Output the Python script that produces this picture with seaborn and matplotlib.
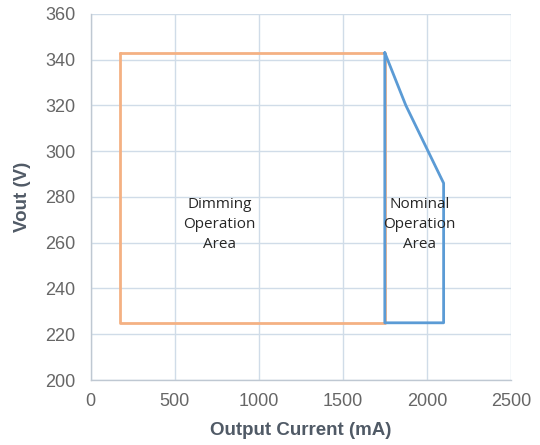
import matplotlib
matplotlib.use('Agg')
import matplotlib.pyplot as plt
import pandas as pd
import seaborn as sns

# Outline of the dimming area (orange) and the nominal area (blue)
dim_current = [175, 1750, 1750, 175, 175]
dim_vout = [343, 343, 225, 225, 343]
nom_current = [1750, 1875, 2100, 2100, 1750, 1750]
nom_vout = [343, 320, 286, 225, 225, 343]

x_ticks = [0, 500, 1000, 1500, 2000, 2500]
y_ticks = [200, 220, 240, 260, 280, 300, 320, 340, 360]

df_dim = pd.DataFrame({'current': dim_current, 'vout': dim_vout})
df_nom = pd.DataFrame({'current': nom_current, 'vout': nom_vout})

sns.set_style('white')
plt.rcParams['font.family'] = ['Liberation Sans', 'DejaVu Sans']

fig = plt.figure(figsize=(5.4, 4.45), dpi=100)
ax = fig.add_axes([0.168, 0.146, 0.778, 0.823])

sns.lineplot(x='current', y='vout', data=df_dim, sort=False, estimator=None,
             color='#F4B183', linewidth=2, ax=ax)
sns.lineplot(x='current', y='vout', data=df_nom, sort=False, estimator=None,
             color='#5B9BD5', linewidth=2, ax=ax)

ax.set_xlim(0, 2500)
ax.set_ylim(200, 360)
ax.set_xticks(x_ticks)
ax.set_yticks(y_ticks)
ax.grid(True, color='#D0DCE8', linewidth=1)
ax.set_axisbelow(True)

for side in ['top', 'right']:
    ax.spines[side].set_visible(False)
for side in ['left', 'bottom']:
    ax.spines[side].set_color('#BFC8D2')
    ax.spines[side].set_linewidth(1)

ax.tick_params(axis='both', colors='#666666', labelsize=13, length=0)
ax.tick_params(axis='y', pad=11)
ax.tick_params(axis='x', pad=9)
ax.set_xlabel('Output Current (mA)', fontsize=13.5, fontweight='bold', color='#505A66', labelpad=9)
ax.set_ylabel('Vout (V)', fontsize=13.5, fontweight='bold', color='#505A66', labelpad=10)

ax.text(768, 268, 'Dimming\nOperation\nArea', ha='center', va='center',
        fontsize=11, color='#262626', linespacing=1.45, family='Open Sans')
ax.text(1958, 268, 'Nominal\nOperation\nArea', ha='center', va='center',
        fontsize=11, color='#262626', linespacing=1.45, family='Open Sans')

fig.savefig('out.png', dpi=100)
